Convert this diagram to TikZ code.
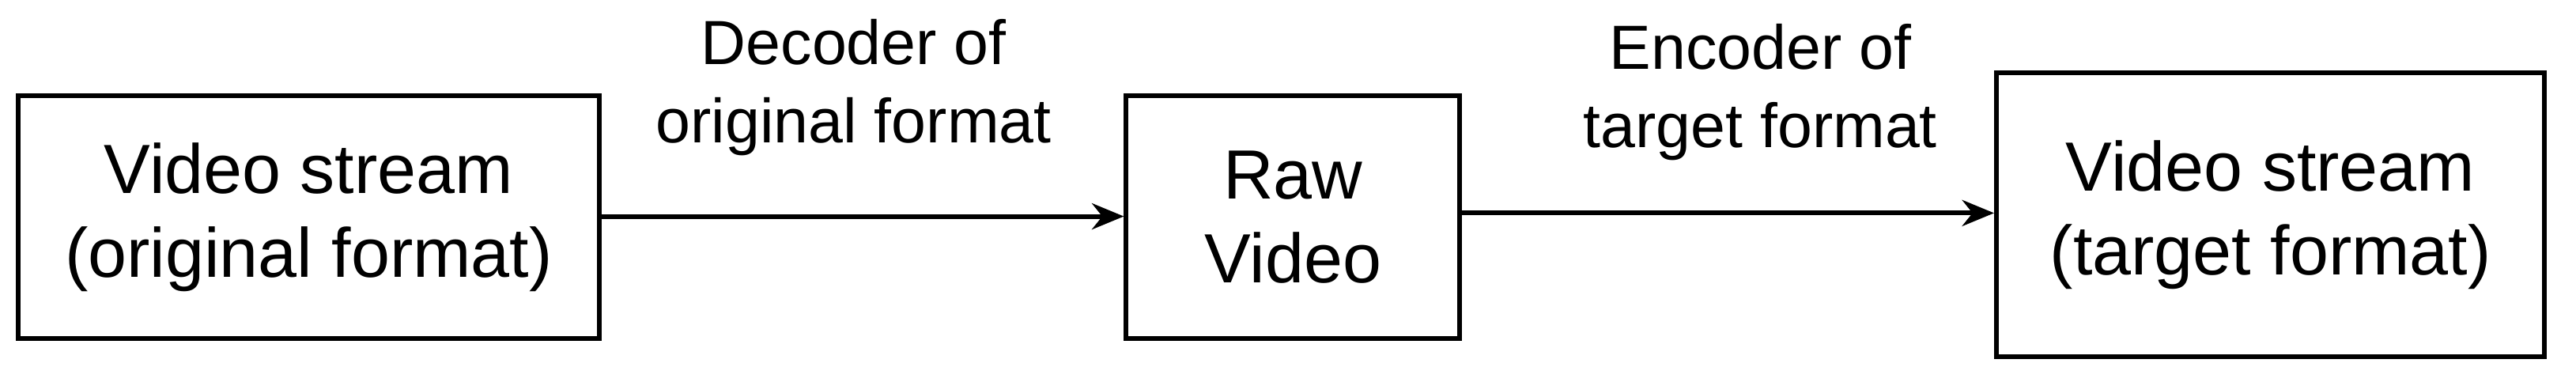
\documentclass[tikz,border=0pt]{standalone}
\usepackage{fontspec}
\setmainfont{Liberation Sans}
\usetikzlibrary{arrows.meta}
\begin{document}
\begin{tikzpicture}
\tikzset{box/.style={draw,line width=1.6pt,inner sep=0pt,align=center,font=\fontsize{24}{29}\selectfont},
lab/.style={align=center,font=\fontsize{21.5}{27}\selectfont},
arr/.style={line width=1.6pt,-{Stealth[length=11pt,width=9pt]}}}
\useasboundingbox (0,0) rectangle (31.2,4.62);
\node[box,minimum width=7.04cm,minimum height=2.94cm] (a) at (3.74,1.99) {Video stream\\(original format)};
\node[box,minimum width=4.04cm,minimum height=2.94cm] (b) at (15.66,1.99) {Raw\\Video};
\node[box,minimum width=6.64cm,minimum height=3.44cm] (c) at (27.5,2.02) {Video stream\\(target format)};
\draw[arr] (a.east |- 0,2.0) coordinate (a1) -- (b.west |- a1);
\draw[arr] (b.east |- 0,2.04) coordinate (b1) -- (c.west |- b1);
\node[lab] (l1) at (10.34,3.56) {Decoder of\\original format};
\node[lab] (l2) at (21.32,3.5) {Encoder of\\target format};
\end{tikzpicture}
\end{document}
